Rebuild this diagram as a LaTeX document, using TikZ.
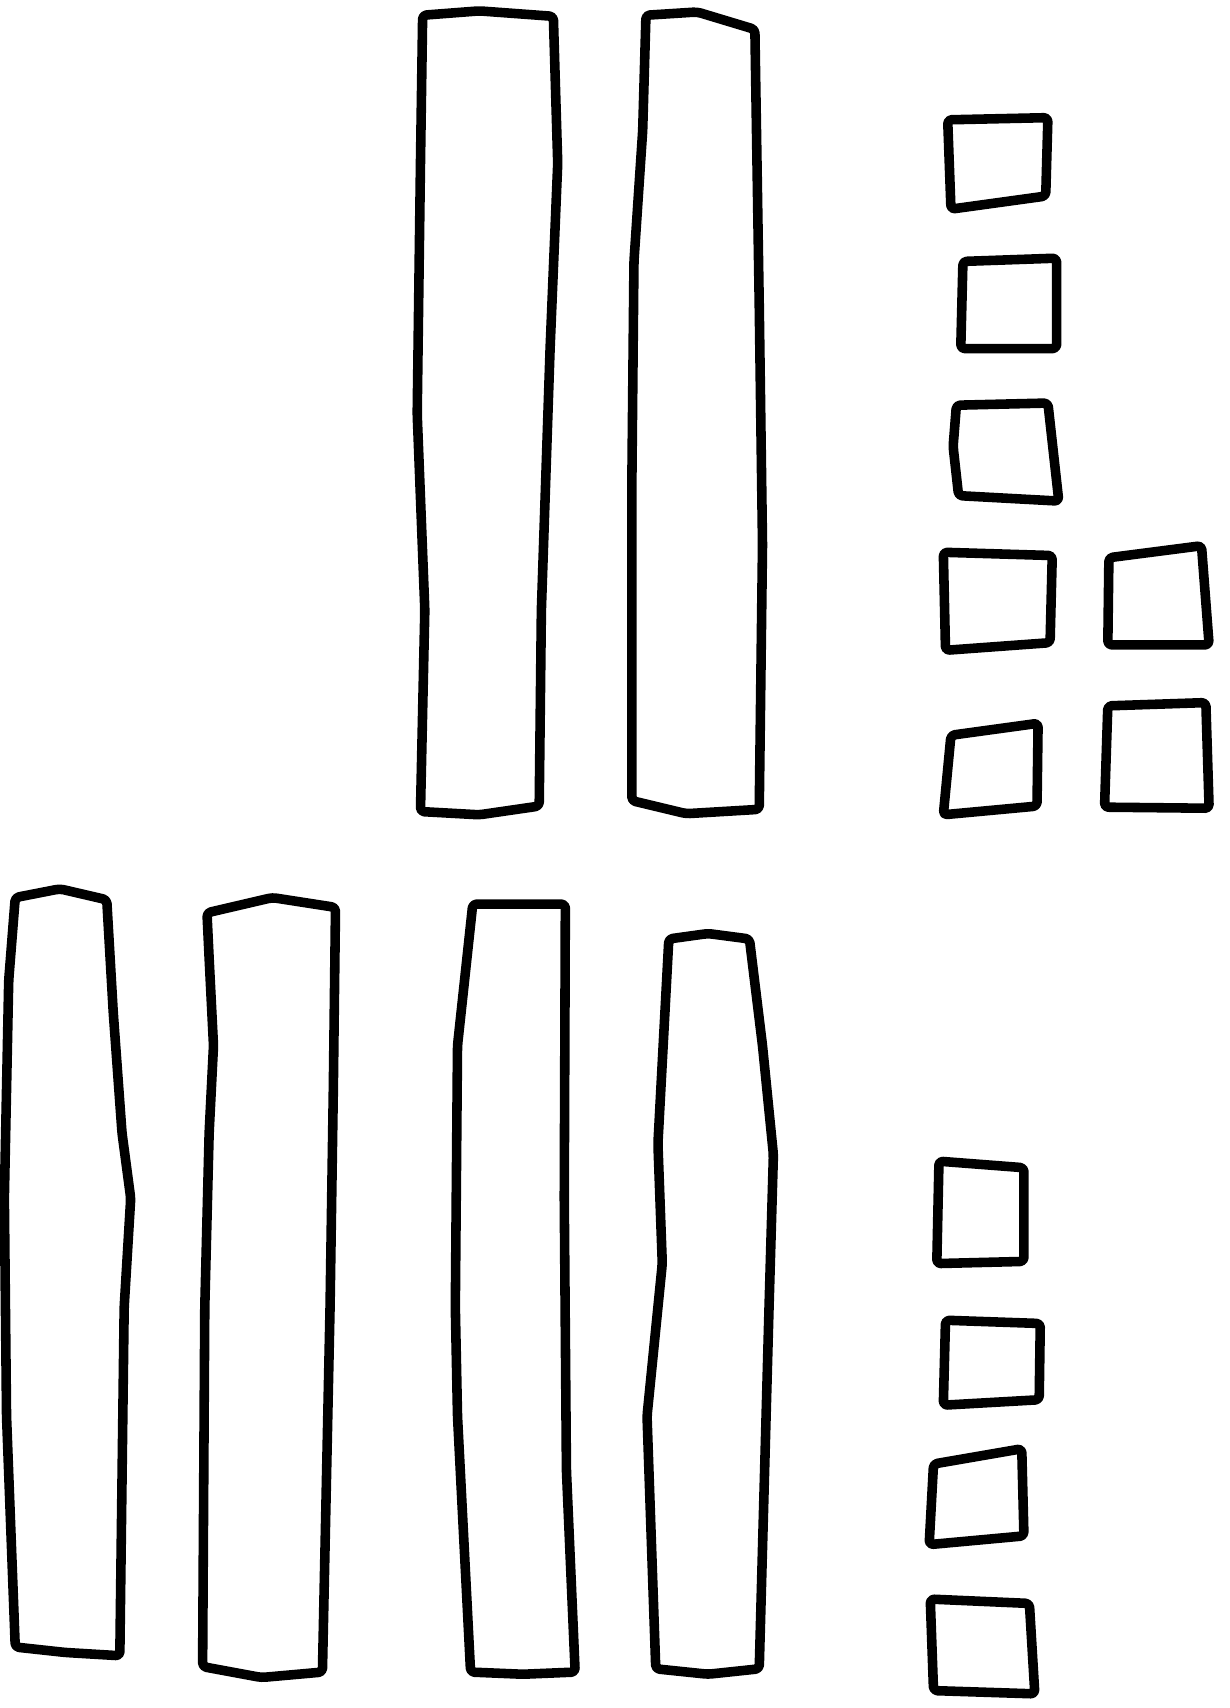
\documentclass[tikz,border=0pt]{standalone}
\tikzset{
    sketch/.style={line width=5pt, line join=round, rounded corners=2pt, black}
}
\begin{document}
\begin{tikzpicture}[x=0.02cm, y=-0.02cm]
        \useasboundingbox (0,0) rectangle (1129,1568);

        % Upper row: long bars
        \begin{scope}
            % Bar 1
            \draw[sketch] (388,14) -- (440,10) -- (508,15) -- (512,150) -- (505,320)
                -- (497,560) -- (495,740) -- (440,748) -- (386,745) -- (390,560)
                -- (383,380) -- (386,150) -- cycle;
            % Bar 2
            \draw[sketch] (593,14) -- (640,11) -- (693,27) -- (697,280) -- (700,500)
                -- (697,743) -- (630,747) -- (580,735) -- (580,450) -- (582,240)
                -- (590,120) -- cycle;
        \end{scope}

        % Upper row: small squares
        \begin{scope}
            \draw[sketch] (870,110) -- (962,108) -- (960,180) -- (873,192) -- cycle;
            \draw[sketch] (884,240) -- (970,237) -- (970,320) -- (882,320) -- cycle;
            \draw[sketch] (878,372) -- (962,370) -- (972,460) -- (880,455) -- (875,410) -- cycle;
            \draw[sketch] (866,507) -- (966,510) -- (964,590) -- (868,597) -- cycle;
            \draw[sketch] (1018,512) -- (1103,501) -- (1110,592) -- (1017,592) -- cycle;
            \draw[sketch] (873,675) -- (953,664) -- (952,740) -- (866,748) -- cycle;
            \draw[sketch] (1017,648) -- (1107,645) -- (1110,742) -- (1014,741) -- cycle;
        \end{scope}

        % Lower row: long bars
        \begin{scope}
            % Bar 1
            \draw[sketch] (14,824) -- (55,816) -- (98,826) -- (104,930) -- (112,1040)
                -- (120,1100) -- (114,1200) -- (110,1520) -- (60,1517) -- (14,1512)
                -- (6,1300) -- (4,1100) -- (8,900) -- cycle;
            % Bar 2
            \draw[sketch] (190,838) -- (250,824) -- (308,833) -- (306,1000) -- (303,1200)
                -- (296,1535) -- (240,1540) -- (186,1530) -- (188,1200) -- (192,1040)
                -- (196,960) -- (192,880) -- cycle;
            % Bar 3
            \draw[sketch] (434,830) -- (519,830) -- (518,1100) -- (520,1350) -- (528,1535)
                -- (480,1537) -- (432,1535) -- (420,1300) -- (418,1200) -- (420,960) -- cycle;
            % Bar 4
            \draw[sketch] (614,862) -- (650,857) -- (688,862) -- (700,960) -- (710,1060)
                -- (706,1200) -- (697,1532) -- (650,1537) -- (602,1532) -- (594,1300)
                -- (608,1160) -- (604,1050) -- cycle;
        \end{scope}

        % Lower row: small squares
        \begin{scope}
            \draw[sketch] (862,1066) -- (940,1072) -- (940,1158) -- (860,1160) -- cycle;
            \draw[sketch] (868,1212) -- (955,1215) -- (954,1285) -- (866,1290) -- cycle;
            \draw[sketch] (857,1344) -- (938,1330) -- (940,1410) -- (853,1418) -- cycle;
            \draw[sketch] (854,1468) -- (945,1472) -- (950,1555) -- (857,1552) -- cycle;
        \end{scope}
    \end{tikzpicture}
\end{document}
